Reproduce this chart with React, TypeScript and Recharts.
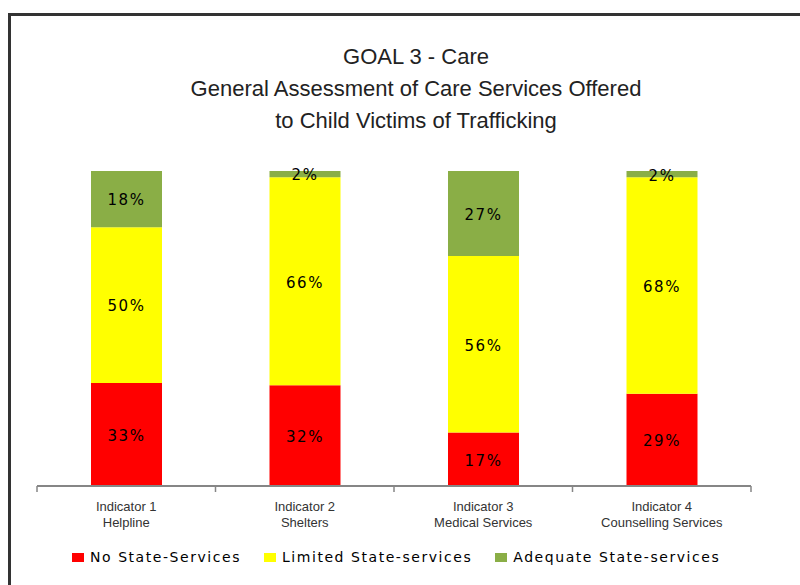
import React from 'react';
import { BarChart, Bar, XAxis, YAxis, LabelList } from 'recharts';

const indicatorNames = ['Indicator 1', 'Indicator 2', 'Indicator 3', 'Indicator 4'];
const serviceNames = ['Helpline', 'Shelters', 'Medical Services', 'Counselling Services'];
const noStateValues = [33, 32, 17, 29];
const limitedValues = [50, 66, 56, 68];
const adequateValues = [18, 2, 27, 2];
const seriesNames = ['No State-Services', 'Limited State-services', 'Adequate State-services'];
const seriesKeys = ['none', 'limited', 'adequate'];
const seriesColors = ['#FF0000', '#FFFF00', '#8AAE46'];
const titleLines = ['GOAL 3 - Care', 'General Assessment of Care Services Offered', 'to Child Victims of Trafficking'];

const data = indicatorNames.map((name, i) => ({
  name,
  service: serviceNames[i],
  none: noStateValues[i],
  limited: limitedValues[i],
  adequate: adequateValues[i],
}));

const W = 800;
const H = 585;
const X_AXIS_H = 30;
const MARGIN = { top: 171, right: 49, bottom: 99 - X_AXIS_H, left: 37 };
const BAND = (W - MARGIN.left - MARGIN.right) / indicatorNames.length;
const AXIS_COLOR = '#868686';

function AxisTick(props: any) {
  const { x, y, payload, index } = props;
  const last = index === indicatorNames.length - 1;
  return (
    <g>
      <line x1={x - BAND / 2} x2={x - BAND / 2} y1={y} y2={y + 6} stroke={AXIS_COLOR} strokeWidth={1.5} />
      {last && <line x1={x + BAND / 2} x2={x + BAND / 2} y1={y} y2={y + 6} stroke={AXIS_COLOR} strokeWidth={1.5} />}
      <text x={x} y={y + 24.5} textAnchor="middle" fontFamily="'Liberation Sans', Arial, sans-serif" fontSize={13} fill="#333">
        {payload.value}
      </text>
      <text x={x} y={y + 41} textAnchor="middle" fontFamily="'Liberation Sans', Arial, sans-serif" fontSize={13} fill="#333">
        {serviceNames[index]}
      </text>
    </g>
  );
}

const labelStyle = {
  fill: '#000',
  fontFamily: "'DejaVu Sans', Verdana, sans-serif",
  fontSize: 15,
  letterSpacing: 1.5,
};

export default function App() {
  return (
    <div style={{ position: 'absolute', left: 0, top: 0, width: W, height: H, overflow: 'hidden', background: '#fff' }}>
      <div
        style={{
          position: 'absolute',
          left: 8,
          top: 13,
          right: -20,
          bottom: -20,
          borderTop: '3px solid #333',
          borderLeft: '3px solid #333',
        }}
      />
      <div
        style={{
          position: 'absolute',
          left: 0,
          width: 832,
          top: 41,
          textAlign: 'center',
          fontFamily: "'Liberation Sans', Arial, sans-serif",
          fontSize: 22,
          lineHeight: '32px',
          color: '#222',
          whiteSpace: 'nowrap',
        }}
      >
        {titleLines.map((t) => (
          <div key={t}>{t}</div>
        ))}
      </div>
      <div style={{ position: 'absolute', left: 0, top: 0 }}>
        <BarChart width={W} height={H} data={data} margin={MARGIN} stackOffset="expand" barSize={71}>
          <YAxis hide domain={[0, 1]} />
          <XAxis
            dataKey="name"
            height={X_AXIS_H}
            interval={0}
            tickSize={0}
            tickMargin={0}
            tickLine={false}
            axisLine={{ stroke: AXIS_COLOR, strokeWidth: 2 }}
            tick={<AxisTick />}
          />
          {seriesKeys.map((k, i) => (
            <Bar key={k} dataKey={k} name={seriesNames[i]} stackId="a" fill={seriesColors[i]} isAnimationActive={false}>
              <LabelList dataKey={k} position="center" formatter={(v: any) => `${v}%`} style={labelStyle} dy={1} />
            </Bar>
          ))}
        </BarChart>
      </div>
      <div
        style={{
          position: 'absolute',
          left: 72,
          top: 547,
          height: 20,
          display: 'flex',
          alignItems: 'center',
          fontFamily: "'DejaVu Sans', Verdana, sans-serif",
          fontSize: 14,
          letterSpacing: 1.55,
          color: '#000',
          whiteSpace: 'nowrap',
        }}
      >
        {seriesNames.map((n, i) => (
          <div key={n} style={{ display: 'flex', alignItems: 'center', marginRight: 23 }}>
            <div style={{ width: 12, height: 9, background: seriesColors[i], marginRight: 6 }} />
            <span>{n}</span>
          </div>
        ))}
      </div>
    </div>
  );
}
